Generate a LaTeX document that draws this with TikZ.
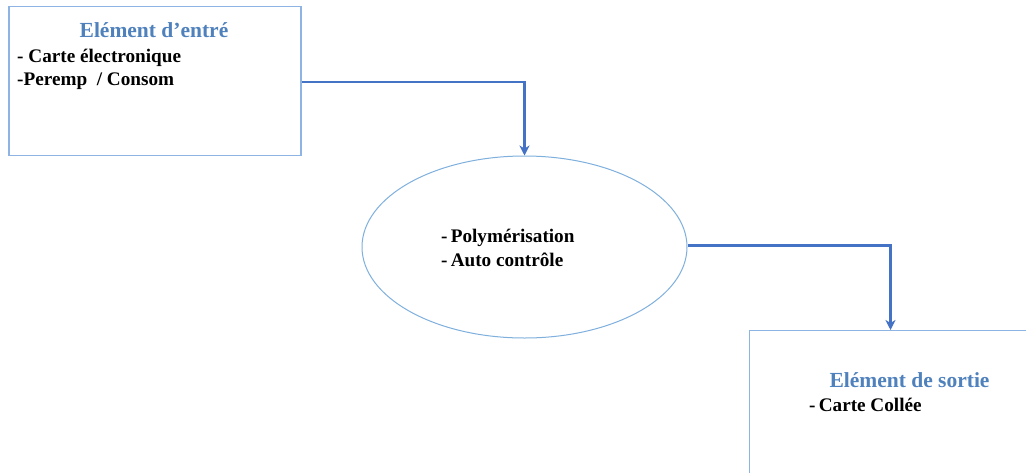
\documentclass[tikz,border=0pt]{standalone}
\usepackage{fontspec}
\setmainfont{Liberation Serif}
\usetikzlibrary{arrows.meta,shapes.geometric,positioning}
\definecolor{boxblue}{HTML}{8DB4E2}
\definecolor{ellblue}{HTML}{7FB0DD}
\definecolor{arrblue}{HTML}{4472C4}
\definecolor{titleblue}{HTML}{4F81BD}
\tikzset{
  boxframe/.style={draw=boxblue, line width=1.3pt, rectangle, inner sep=0pt},
  ellframe/.style={draw=ellblue, line width=1pt, ellipse, inner sep=0pt},
  conn/.style={draw=arrblue, line width=2.2pt, -{Stealth[length=10pt,width=10pt,inset=3pt]}},
  titletxt/.style={font=\fontsize{21.5}{23}\selectfont\bfseries, text=titleblue, anchor=base, inner sep=0pt},
  bodytxt/.style={font=\fontsize{19.2}{21}\selectfont\bfseries, text=black, anchor=base west, inner sep=0pt}
}
\begin{document}
\begin{tikzpicture}[x=1pt,y=-1pt]
\clip (0,0) rectangle (1026,472);
\fill[white] (0,0) rectangle (1026,472);
% input box
\node[boxframe, minimum width=292pt, minimum height=149pt] (in) at (155,81.2) {};
\node[titletxt] (intitle) at (154,37) {Elément d’entré};
\node[bodytxt] (in1) at (17,62.5) {- Carte électronique};
\node[bodytxt] (in2) at (17,85) {-Peremp~ / Consom};
% process ellipse
\node[ellframe, minimum width=325pt, minimum height=182pt] (proc) at (524.5,247) {};
\node[bodytxt] (p1) at (441,242) {-\,Polymérisation};
\node[bodytxt] (p2) at (441,266) {-\,Auto contrôle};
% output box
\node[boxframe, minimum width=300pt, minimum height=170pt, anchor=north west] (out) at (749,330) {};
\node[titletxt] (outtitle) at (909.5,387) {Elément de sortie};
\node[bodytxt] (out1) at (809,411) {-\,Carte Collée};
% connectors
\coordinate (c1) at (524.5,82);
\coordinate (c2) at (890.5,245.5);
\draw[conn] (in.east |- c1) -- (c1) -- (proc.north);
\draw[conn] (proc.east |- c2) -- (c2) -- (c2 |- out.north);
\end{tikzpicture}
\end{document}
